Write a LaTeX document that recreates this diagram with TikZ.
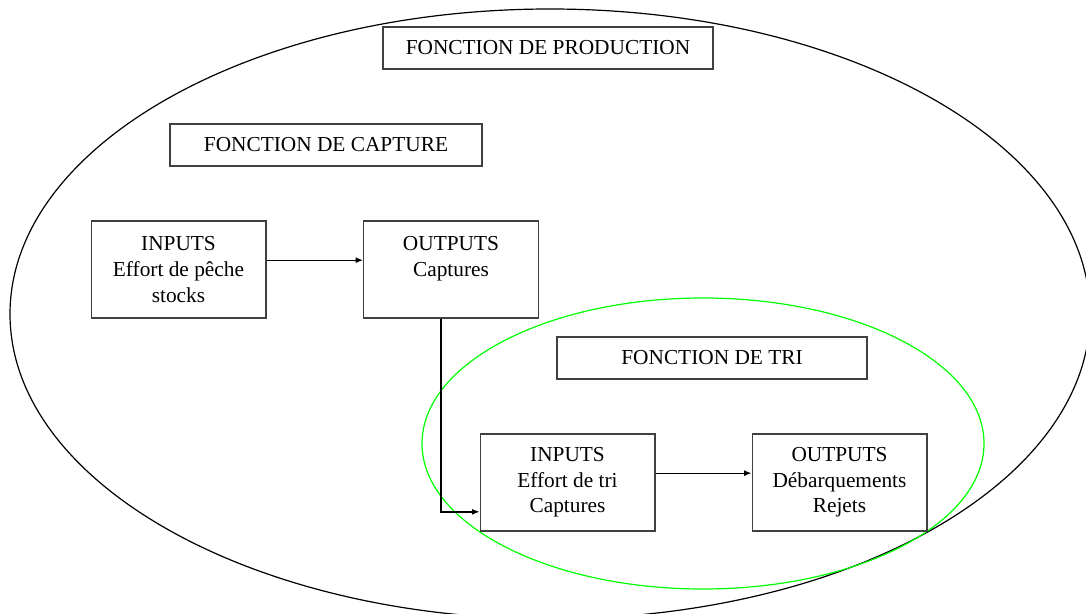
\documentclass[tikz,border=0pt]{standalone}
\usepackage{fontspec}
\setmainfont{Liberation Serif}
\usepackage{tikz}
\usetikzlibrary{arrows,arrows.meta}

\begin{document}
\begin{tikzpicture}[x=0.75pt, y=-0.75pt,
	every node/.style={font=\fontsize{16}{19.2}\selectfont},
	box/.style={draw=black!75, line width=1pt, align=center, inner sep=0pt},
	titlebox/.style={box, minimum height=31.5pt},
	flowbox/.style={box, minimum width=131pt, minimum height=72.75pt},
	flow/.style={line width=1pt, -{Latex[length=5.5pt,width=4.5pt]}}]
	\useasboundingbox (0,0) rectangle (1086,614);
	\draw[line width=0.9pt] (550,314) ellipse [x radius=540, y radius=305];
	\draw[line width=0.9pt, green] (703,443.5) ellipse [x radius=281, y radius=145.5];
	\node[titlebox, minimum width=247.5pt] (prod) at (548,48) {FONCTION DE PRODUCTION};
	\node[titlebox, minimum width=234pt] (capt) at (326,145) {FONCTION DE CAPTURE};
	\node[titlebox, minimum width=232.5pt] (tri) at (712,358) {FONCTION DE TRI};
	\node[flowbox] (inc) at (178.5,269.5) {INPUTS\\Effort de pêche\\stocks};
	\node[flowbox] (outc) at (451,269.5) {OUTPUTS\\Captures\\~};
	\node[flowbox] (intri) at (567.5,482.5) {INPUTS\\Effort de tri\\Captures};
	\node[flowbox] (outtri) at (839.5,482.5) {OUTPUTS\\Débarquements\\Rejets};
	\draw[flow] ([yshift=7pt]inc.east) -- ([yshift=7pt]outc.west);
	\draw[flow] ([xshift=-7.5pt]outc.south) |- ([yshift=-22pt]intri.west);
	\draw[flow] ([yshift=7pt]intri.east) -- ([yshift=7pt]outtri.west);
\end{tikzpicture}
\end{document}
